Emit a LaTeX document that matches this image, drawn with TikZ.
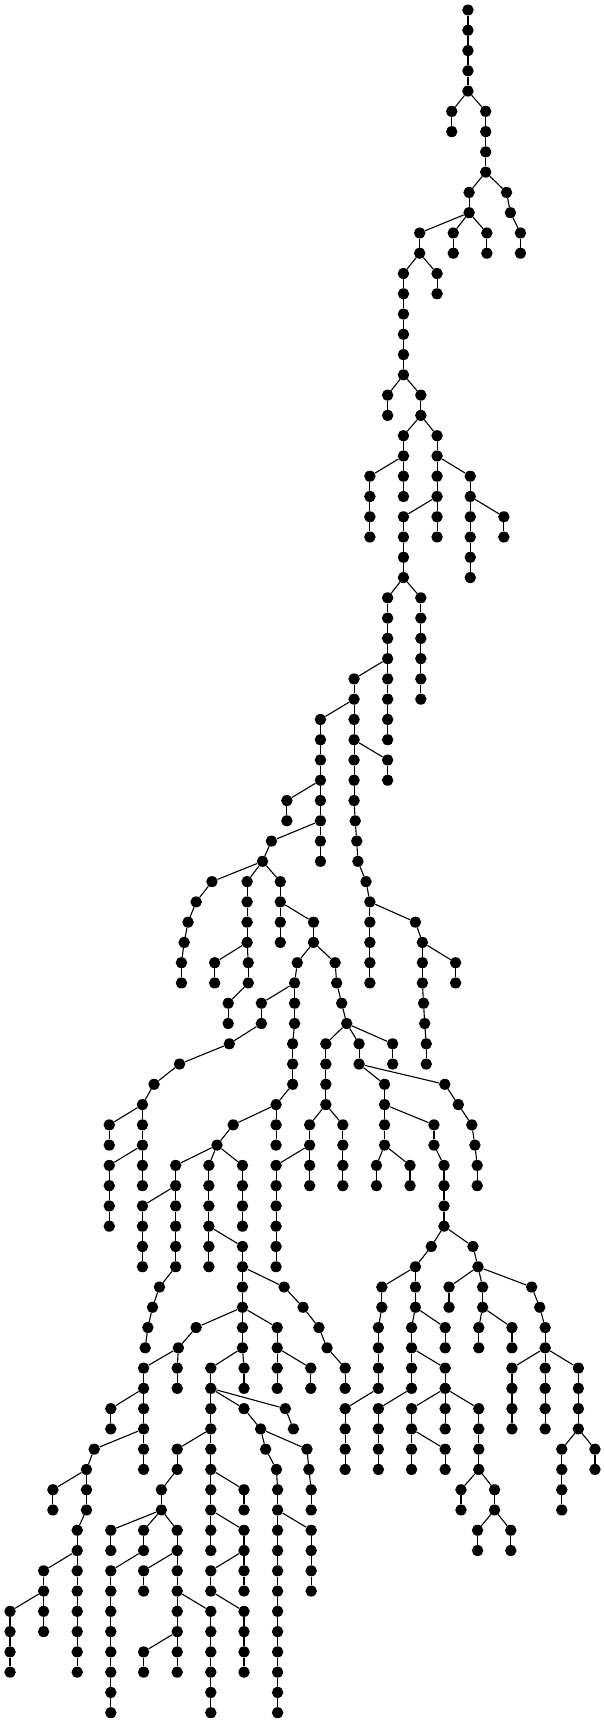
\documentclass[tikz,border=0pt]{standalone}
\usetikzlibrary{shapes.geometric}
\begin{document}
\begin{tikzpicture}[x=0.3861pt,y=-20.27pt,
 v/.style={ellipse,fill=black,draw=none,inner sep=0pt,minimum width=11.5pt,minimum height=11pt},
 e/.style={line width=1.1pt,black}]
\useasboundingbox (0pt,10pt) rectangle (603pt,-1713pt);
\foreach \r/\xs in {
0/{1212},1/{1212},2/{1212},3/{1212},4/{1212},
5/{1170,1258},6/{1170,1258},7/{1258},8/{1258},
9/{1215,1312},10/{1215,1322},
11/{1087,1174,1261,1348},12/{1087,1174,1261,1348},
13/{1045,1132},14/{1045,1132},15/{1045},16/{1045},17/{1045},18/{1045},
19/{1004,1090},20/{1004,1090},21/{1045,1132},22/{1045,1132},
23/{958,1045,1132,1218},24/{958,1045,1132,1218},
25/{958,1045,1132,1218,1305},26/{958,1045,1132,1218,1305},
27/{1045,1218},28/{1045,1218},
29/{1004,1090},30/{1004,1090},31/{1004,1090},32/{1004,1090},
33/{917,1004,1090},34/{917,1004,1090},
35/{830,917,1004},36/{830,917,1004},37/{830,917,1004},38/{830,917,1004},
39/{743,830,917},40/{743,830,920},41/{703,830,924},42/{680,830,927},
43/{549,640,726,948},44/{508,640,726,958},
45/{487,640,726,812,958,1076},46/{477,640,726,812,958,1094},
47/{470,556,643,770,868,958,1094,1180},48/{470,556,643,763,872,958,1094,1180},
49/{591,677,763,885,1097},50/{591,677,763,898,1100},
51/{594,758,844,930,1017,1104},52/{465,758,844,930,1017,1104},
53/{399,758,844,996,1152},54/{369,715,844,996,1187},
55/{283,369,604,715,802,888,996,1124,1222},56/{283,369,562,715,802,888,996,1124,1230},
57/{283,369,455,541,628,715,802,888,975,1062,1150,1236},
58/{283,369,455,541,628,715,802,888,975,1062,1150,1236},
59/{283,369,455,541,628,715,1150},60/{283,369,455,541,628,715,1150},
61/{369,455,541,628,715,1117,1225},62/{369,455,541,628,715,1076,1238},
63/{413,628,736,989,1076,1163,1250,1377},64/{395,628,785,989,1076,1163,1250,1398},
65/{383,508,628,718,826,980,1066,1153,1240,1326,1412},
66/{376,462,628,718,847,980,1066,1153,1240,1326,1412},
67/{372,459,546,632,718,805,894,980,1066,1153,1326,1412,1498},
68/{372,459,546,632,718,805,894,980,1066,1153,1326,1412,1498},
69/{287,372,546,632,739,894,980,1066,1153,1240,1326,1412,1498},
70/{287,372,546,675,760,894,980,1066,1153,1240,1326,1412,1498},
71/{244,372,459,546,688,795,894,980,1066,1153,1240,1455,1541},
72/{224,372,459,546,716,800,894,980,1066,1153,1240,1455,1541},
73/{137,224,418,546,632,719,806,1194,1281,1455},
74/{137,224,418,546,632,719,806,1194,1281,1455},
75/{200,287,372,459,546,632,719,806,1237,1323},
76/{200,287,372,459,546,632,719,806,1237,1323},
77/{113,200,287,372,459,546,632,719,806},78/{113,200,287,372,459,546,632,719,806},
79/{26,113,200,287,459,546,632,719},80/{26,113,200,287,459,546,632,719},
81/{26,200,287,372,459,546,632,719},82/{26,200,287,372,459,546,632,719},
83/{287,546,719},84/{287,546,719}}{
  \foreach \x in \xs {\node[v] (n\r-\x) at (\x,\r) {};}
}
\foreach \r/\a/\b in {
0/1212/1212,1/1212/1212,2/1212/1212,3/1212/1212,
4/1212/1170,4/1212/1258,
5/1170/1170,5/1258/1258,6/1258/1258,7/1258/1258,
8/1258/1215,8/1258/1312,
9/1215/1215,9/1312/1322,
10/1215/1087,10/1215/1174,10/1215/1261,10/1322/1348,
11/1087/1087,11/1174/1174,11/1261/1261,11/1348/1348,
12/1087/1045,12/1087/1132,
13/1045/1045,13/1132/1132,
14/1045/1045,15/1045/1045,16/1045/1045,17/1045/1045,
18/1045/1004,18/1045/1090,
19/1004/1004,19/1090/1090,
20/1090/1045,20/1090/1132,
21/1045/1045,21/1132/1132,
22/1045/958,22/1045/1045,22/1132/1132,22/1132/1218,
23/958/958,23/1045/1045,23/1132/1132,23/1218/1218,
24/958/958,24/1132/1045,24/1132/1132,24/1218/1218,24/1218/1305,
25/958/958,25/1045/1045,25/1132/1132,25/1218/1218,25/1305/1305,
26/1045/1045,26/1218/1218,
27/1045/1045,27/1218/1218,
28/1045/1004,28/1045/1090,
29/1004/1004,29/1090/1090,30/1004/1004,30/1090/1090,31/1004/1004,31/1090/1090,
32/1004/917,32/1004/1004,32/1090/1090,
33/917/917,33/1004/1004,33/1090/1090,
34/917/830,34/917/917,34/1004/1004,
35/830/830,35/917/917,35/1004/1004,
36/830/830,36/917/917,36/917/1004,
37/830/830,37/917/917,37/1004/1004,
38/830/743,38/830/830,38/917/917,
39/743/743,39/830/830,39/917/920,
40/830/703,40/830/830,40/920/924,
41/703/680,41/830/830,41/924/927,
42/680/549,42/680/640,42/680/726,42/927/948,
43/549/508,43/640/640,43/726/726,43/948/958,
44/508/487,44/640/640,44/726/726,44/726/812,44/958/958,44/958/1076,
45/487/477,45/640/640,45/726/726,45/812/812,45/958/958,45/1076/1094,
46/477/470,46/640/556,46/640/643,46/812/770,46/812/868,46/958/958,46/1094/1094,46/1094/1180,
47/470/470,47/556/556,47/643/643,47/770/763,47/868/872,47/958/958,47/1094/1094,47/1180/1180,
48/643/591,48/763/677,48/763/763,48/872/885,48/1094/1097,
49/591/591,49/677/677,49/763/763,49/885/898,49/1097/1100,
50/677/594,50/763/758,50/898/844,50/898/930,50/898/1017,50/1100/1104,
51/594/465,51/758/758,51/844/844,51/930/930,51/1017/1017,51/1104/1104,
52/465/399,52/758/758,52/844/844,52/930/996,52/930/1152,
53/399/369,53/758/715,53/844/844,53/996/996,53/1152/1187,
54/369/283,54/369/369,54/715/604,54/715/715,54/844/802,54/844/888,54/996/996,54/996/1124,54/1187/1222,
55/283/283,55/369/369,55/604/562,55/715/715,55/802/802,55/888/888,55/996/996,55/1124/1124,55/1222/1230,
56/369/283,56/369/369,56/562/455,56/562/541,56/562/628,56/802/715,56/802/802,56/888/888,56/996/975,56/996/1062,56/1124/1150,56/1230/1236,
57/283/283,57/369/369,57/455/455,57/541/541,57/628/628,57/715/715,57/802/802,57/888/888,57/975/975,57/1062/1062,57/1150/1150,57/1236/1236,
58/283/283,58/455/369,58/455/455,58/541/541,58/628/628,58/715/715,58/1150/1150,
59/283/283,59/369/369,59/455/455,59/541/541,59/628/628,59/715/715,59/1150/1150,
60/369/369,60/455/455,60/541/541,60/541/628,60/715/715,60/1150/1117,60/1150/1225,
61/369/369,61/455/455,61/541/541,61/628/628,61/715/715,61/1117/1076,61/1225/1238,
62/455/413,62/628/628,62/628/736,62/1076/989,62/1076/1076,62/1238/1163,62/1238/1250,62/1238/1377,
63/413/395,63/628/628,63/736/785,63/989/989,63/1076/1076,63/1163/1163,63/1250/1250,63/1377/1398,
64/395/383,64/628/508,64/628/628,64/628/718,64/785/826,64/989/980,64/1076/1066,64/1076/1153,64/1250/1240,64/1250/1326,64/1398/1412,
65/383/376,65/508/462,65/628/628,65/718/718,65/826/847,65/980/980,65/1066/1066,65/1153/1153,65/1240/1240,65/1326/1326,65/1412/1412,
66/462/372,66/462/459,66/628/546,66/628/632,66/718/718,66/718/805,66/847/894,66/980/980,66/1066/1066,66/1066/1153,66/1412/1326,66/1412/1412,66/1412/1498,
67/372/372,67/459/459,67/546/546,67/632/632,67/718/718,67/805/805,67/894/894,67/980/980,67/1066/1066,67/1153/1153,67/1326/1326,67/1412/1412,67/1498/1498,
68/372/287,68/372/372,68/546/546,68/546/632,68/546/739,68/980/894,68/1066/980,68/1153/1066,68/1153/1153,68/1153/1240,68/1326/1326,68/1412/1412,68/1498/1498,
69/287/287,69/372/372,69/546/546,69/632/675,69/739/760,69/894/894,69/980/980,69/1066/1066,69/1153/1153,69/1240/1240,69/1326/1326,69/1412/1412,69/1498/1498,
70/372/244,70/372/372,70/546/459,70/546/546,70/675/688,70/675/795,70/894/894,70/980/980,70/1066/1066,70/1066/1153,70/1240/1240,70/1498/1455,70/1498/1541,
71/244/224,71/372/372,71/459/459,71/546/546,71/688/716,71/795/800,71/894/894,71/980/980,71/1066/1066,71/1153/1153,71/1240/1240,71/1455/1455,71/1541/1541,
72/224/137,72/224/224,72/459/418,72/546/546,72/546/632,72/716/719,72/800/806,72/1240/1194,72/1240/1281,72/1455/1455,
73/137/137,73/224/224,73/418/418,73/546/546,73/632/632,73/719/719,73/806/806,73/1194/1194,73/1281/1281,73/1455/1455,
74/224/200,74/418/287,74/418/372,74/418/459,74/546/546,74/546/632,74/719/719,74/719/806,74/1281/1237,74/1281/1323,
75/200/200,75/287/287,75/372/372,75/459/459,75/546/546,75/632/632,75/719/719,75/806/806,75/1237/1237,75/1323/1323,
76/200/113,76/200/200,76/372/287,76/459/372,76/459/459,76/632/546,76/632/632,76/719/719,76/806/806,
77/113/113,77/200/200,77/287/287,77/372/372,77/459/459,77/546/546,77/632/632,77/719/719,77/806/806,
78/113/26,78/113/113,78/200/200,78/287/287,78/459/459,78/459/546,78/546/632,78/719/719,
79/26/26,79/113/113,79/200/200,79/287/287,79/459/459,79/546/546,79/632/632,79/719/719,
80/26/26,80/200/200,80/287/287,80/459/372,80/459/459,80/546/546,80/632/632,80/719/719,
81/26/26,81/200/200,81/287/287,81/372/372,81/459/459,81/546/546,81/632/632,81/719/719,
82/287/287,82/546/546,82/719/719,
83/287/287,83/546/546,83/719/719}{
  \pgfmathtruncatemacro\s{\r+1}
  \draw[e] (n\r-\a) -- (n\s-\b);
}
\end{tikzpicture}
\end{document}
